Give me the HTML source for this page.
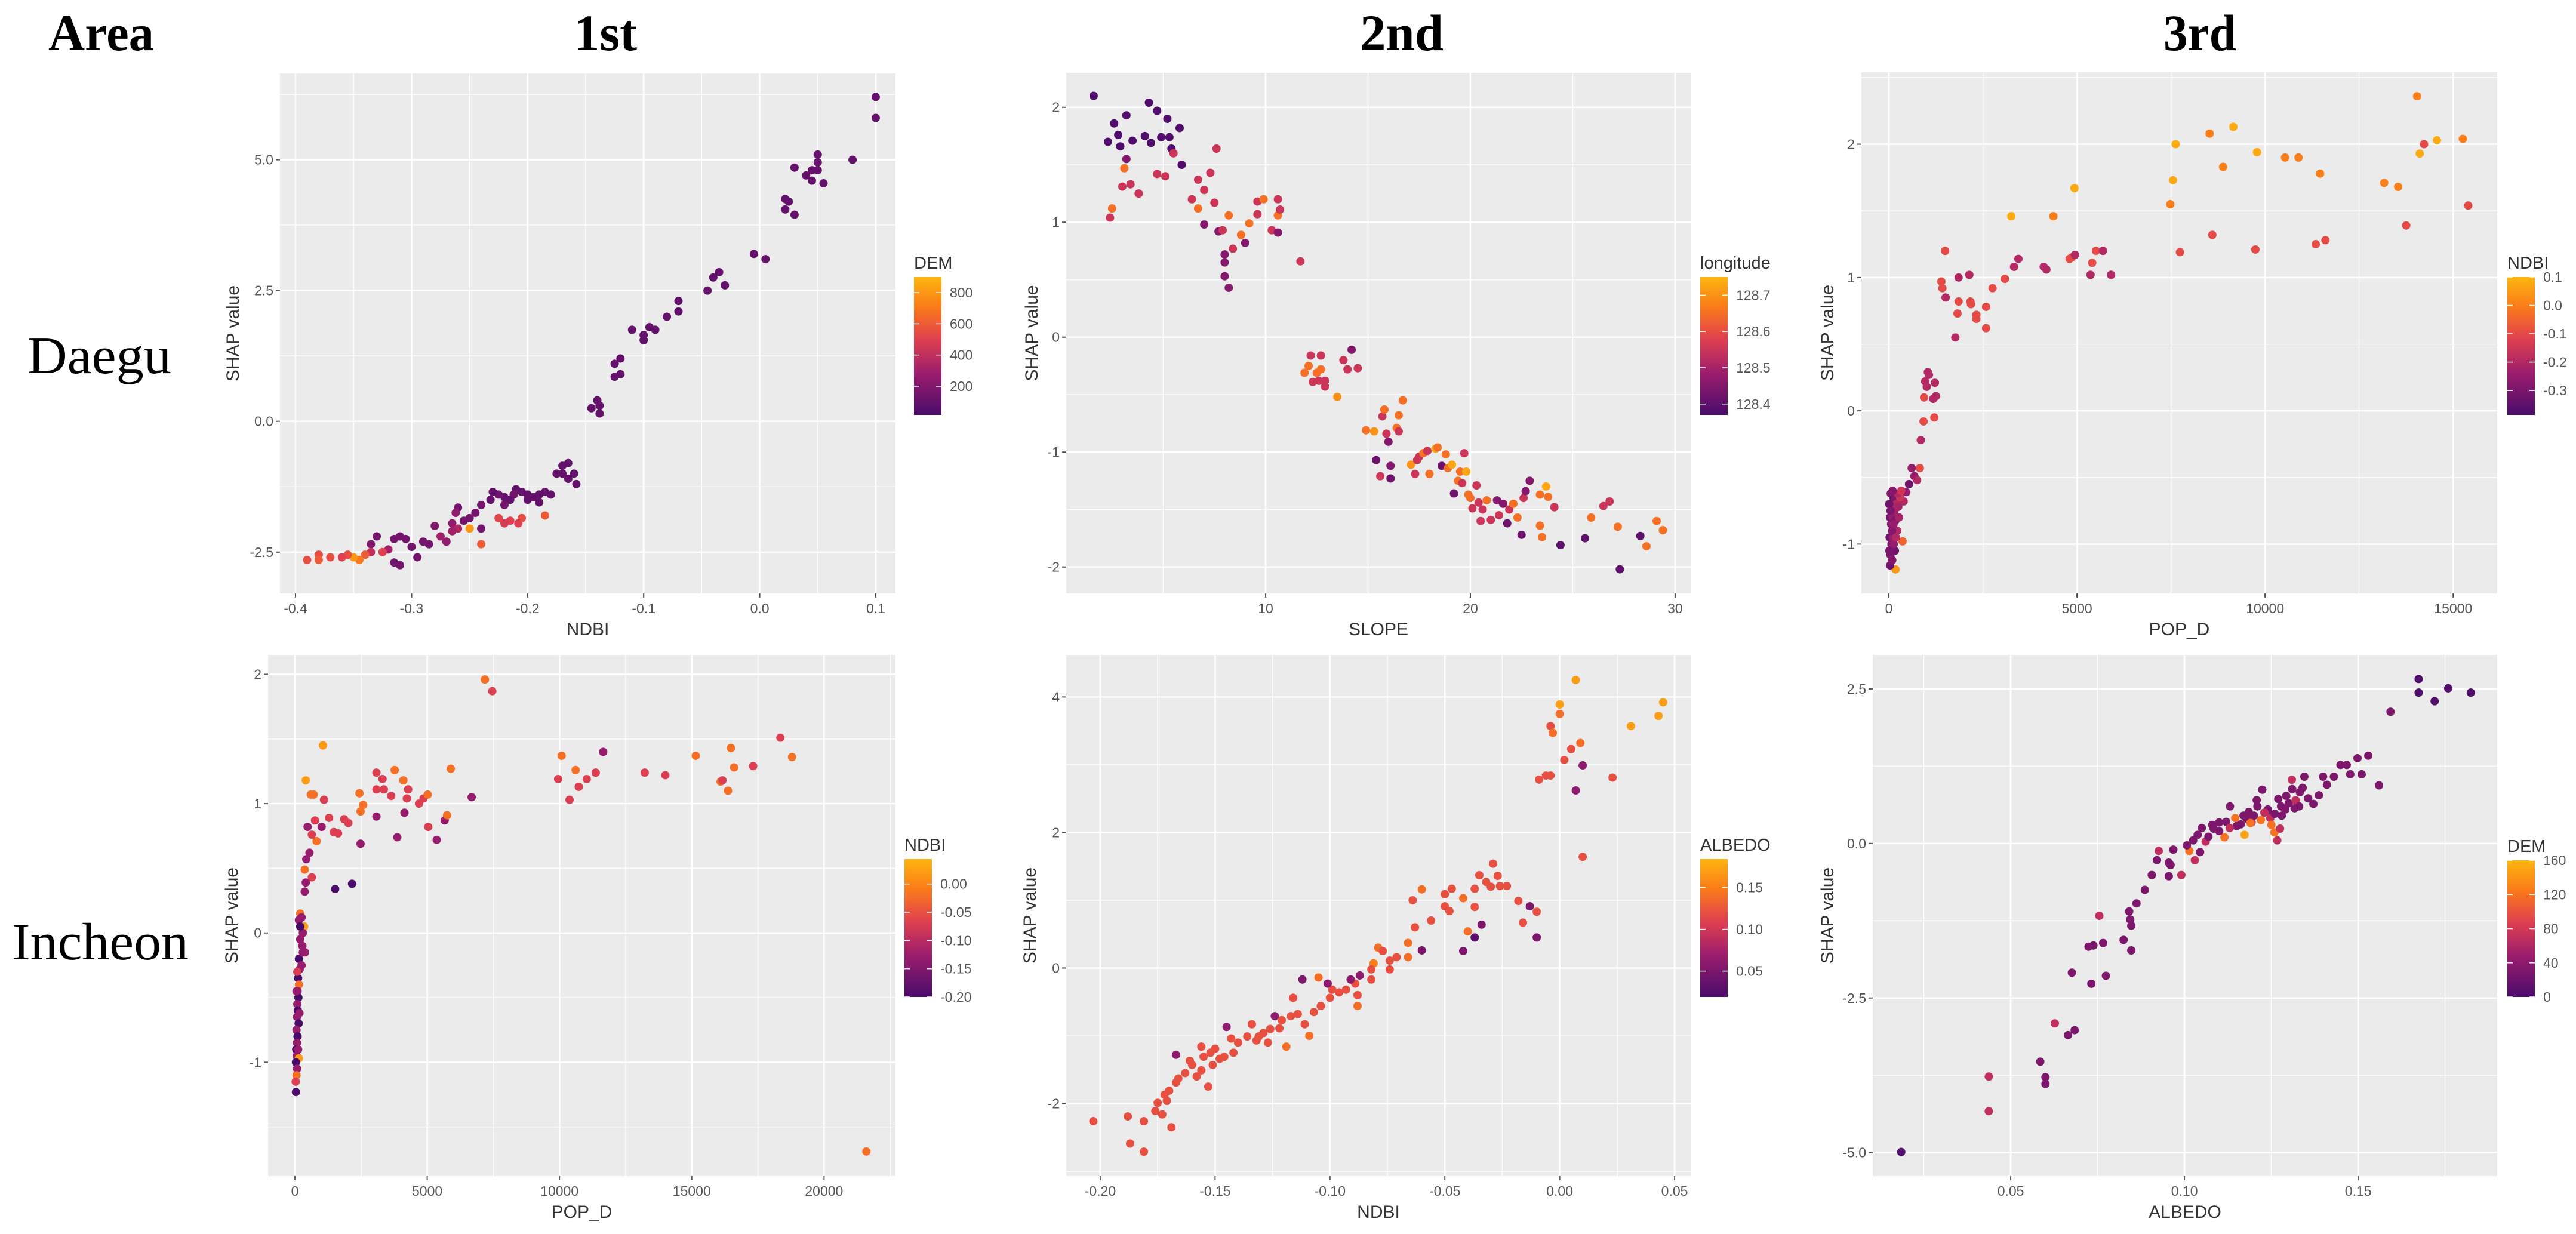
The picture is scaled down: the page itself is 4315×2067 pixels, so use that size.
<!DOCTYPE html>
<html><head><meta charset="utf-8"><style>
html,body{margin:0;padding:0;background:#fff;}
svg{display:block;}
.serif{font-family:"Liberation Serif",serif;fill:#000;}
.ax{font-family:"Liberation Sans",sans-serif;fill:#555;}
</style></head><body>
<svg id="fig" width="4315" height="2067" viewBox="0 0 4315 2067" xmlns="http://www.w3.org/2000/svg">
<defs>
<linearGradient id="cmap" x1="0" y1="1" x2="0" y2="0">
<stop offset="0" stop-color="#4a0c6b"/><stop offset="0.3" stop-color="#9b1d6d"/><stop offset="0.55" stop-color="#e0404f"/><stop offset="0.78" stop-color="#fa7a1a"/><stop offset="1" stop-color="#fdb50f"/>
</linearGradient>
</defs>
<text class="serif" x="81" y="84" font-size="86" font-weight="bold" textLength="177" lengthAdjust="spacingAndGlyphs">Area</text>
<text class="serif" x="1014" y="84" font-size="86" font-weight="bold" text-anchor="middle" textLength="106" lengthAdjust="spacingAndGlyphs">1st</text>
<text class="serif" x="2348" y="84" font-size="86" font-weight="bold" text-anchor="middle" textLength="140" lengthAdjust="spacingAndGlyphs">2nd</text>
<text class="serif" x="3685" y="84" font-size="86" font-weight="bold" text-anchor="middle" textLength="122" lengthAdjust="spacingAndGlyphs">3rd</text>
<text class="serif" x="46" y="625" font-size="88" textLength="241" lengthAdjust="spacingAndGlyphs">Daegu</text>
<text class="serif" x="20" y="1607" font-size="88" textLength="296" lengthAdjust="spacingAndGlyphs">Incheon</text>
</svg>
<script>
// ---- Daegu 1st: NDBI vs SHAP, colour DEM ----
const tlX=[0.1,0.1,0.08,0.05,0.05,0.05,0.045,0.04,0.045,0.055,0.03,0.022,0.025,0.022,0.03,-0.005,0.005,-0.035,-0.04,-0.03,-0.045,-0.07,-0.07,-0.08,-0.09,-0.095,-0.1,-0.1,-0.11,-0.12,-0.125,-0.12,-0.125,-0.14,-0.145,-0.138,-0.138,
-0.165,-0.17,-0.16,-0.165,-0.17,-0.158,-0.175,
-0.18,-0.185,-0.19,-0.195,-0.2,-0.205,-0.21,-0.212,-0.215,-0.22,-0.225,-0.23,-0.232,-0.22,-0.2,-0.19,
-0.185,-0.205,-0.208,-0.215,-0.22,-0.225,-0.24,-0.25,
-0.24,-0.245,-0.24,-0.25,-0.255,-0.26,-0.262,-0.265,-0.26,-0.265,-0.27,-0.275,-0.28,-0.285,
-0.29,-0.295,-0.3,-0.305,-0.31,-0.315,-0.31,-0.315,-0.32,-0.325,-0.33,-0.335,-0.335,-0.34,-0.345,-0.35,-0.355,-0.36,-0.37,-0.38,-0.38,-0.39];
const tlY=[6.2,5.8,5.0,5.1,4.95,4.8,4.8,4.7,4.6,4.55,4.85,4.25,4.2,4.05,3.95,3.2,3.1,2.85,2.75,2.6,2.5,2.3,2.1,2.0,1.75,1.8,1.65,1.55,1.75,1.2,1.1,0.9,0.85,0.4,0.25,0.3,0.15,
-0.8,-0.85,-1.0,-1.1,-1.0,-1.2,-1.0,
-1.4,-1.35,-1.4,-1.45,-1.4,-1.35,-1.3,-1.4,-1.5,-1.45,-1.4,-1.35,-1.5,-1.6,-1.5,-1.55,
-1.8,-1.85,-1.95,-1.9,-1.95,-1.85,-2.35,-2.05,
-2.05,-1.75,-1.6,-1.85,-1.9,-1.65,-1.75,-1.95,-2.05,-2.1,-2.3,-2.2,-2.0,-2.35,
-2.3,-2.6,-2.4,-2.25,-2.2,-2.25,-2.75,-2.7,-2.45,-2.5,-2.2,-2.35,-2.5,-2.55,-2.65,-2.6,-2.55,-2.6,-2.6,-2.55,-2.65,-2.65];
const tlC=[100,100,100,100,100,100,100,100,100,100,100,100,100,100,100,100,100,100,100,100,100,100,100,100,100,100,100,100,100,100,100,100,100,100,100,100,100,
100,100,100,100,100,100,100,
100,100,100,100,100,100,100,150,100,100,150,100,100,150,100,100,
600,550,500,500,480,520,600,800,
150,150,150,150,150,150,250,250,350,300,250,300,200,150,
150,150,150,150,150,150,150,150,300,500,150,200,400,600,700,800,550,500,550,550,600,550];
const tlXTicks=[-0.4,-0.3,-0.2,-0.1,0.0,0.1];
const tlXLabels=["-0.4","-0.3","-0.2","-0.1","0.0","0.1"];
const tlYTicks=[-2.5,0,2.5,5];
const tlYLabels=["-2.5","0.0","2.5","5.0"];
const tlLegTicks=[800,600,400,200];

// ---- Daegu 2nd: SLOPE vs SHAP, colour longitude ----
const tmX=[1.6,2.3,2.6,2.8,2.9,3.2,3.2,3.5,4.1,4.3,4.4,4.7,4.9,5.2,5.3,5.4,5.8,5.9,5.5,2.4,2.5,3.0,3.1,3.4,3.8,4.7,5.1,6.4,6.7,6.7,7.0,7.0,7.3,7.5,7.6,7.7,7.9,8.0,8.0,8.0,8.2,8.2,8.4,8.8,9.0,9.2,9.6,9.6,9.9,10.3,10.6,10.6,10.6,10.7,11.7,
11.9,12.1,12.2,12.3,12.5,12.6,12.7,12.7,12.9,12.9,13.5,13.8,14.0,14.2,14.5,
14.9,15.3,15.4,15.6,15.7,15.8,15.9,16.0,16.1,16.1,16.4,16.5,16.5,16.7,
17.1,17.3,17.4,17.5,17.7,17.9,18.0,18.3,18.4,18.6,18.8,18.9,19.1,19.2,19.4,19.5,19.6,19.7,19.8,19.9,20.0,20.1,20.3,20.4,20.5,20.6,20.8,21.0,21.3,21.4,21.6,21.8,21.9,22.1,22.3,22.5,22.6,22.7,22.9,23.4,23.4,23.5,23.7,23.8,24.1,24.4,25.6,25.9,26.5,26.8,27.2,27.3,28.3,28.6,29.1,29.4];
const tmY=[2.1,1.7,1.86,1.76,1.66,1.93,1.55,1.71,1.75,2.04,1.69,1.97,1.74,1.9,1.74,1.64,1.82,1.5,1.6,1.04,1.12,1.31,1.47,1.33,1.25,1.42,1.4,1.2,1.37,1.12,1.28,0.98,1.43,1.17,1.64,0.92,0.93,0.72,0.65,0.53,1.06,0.43,0.77,0.89,0.82,0.99,1.18,1.07,1.2,0.93,0.91,1.2,1.06,1.11,0.66,
-0.31,-0.25,-0.16,-0.39,-0.31,-0.38,-0.16,-0.28,-0.43,-0.38,-0.52,-0.2,-0.28,-0.11,-0.27,
-0.81,-0.82,-1.07,-1.21,-0.69,-0.63,-0.84,-0.91,-1.12,-1.23,-0.79,-0.68,-0.82,-0.55,
-1.11,-1.19,-1.07,-1.04,-1.01,-0.99,-1.19,-0.97,-0.96,-1.12,-1.02,-1.14,-1.11,-1.36,-1.25,-1.17,-1.27,-1.01,-1.17,-1.37,-1.4,-1.49,-1.29,-1.44,-1.6,-1.5,-1.42,-1.59,-1.42,-1.55,-1.45,-1.62,-1.5,-1.45,-1.57,-1.72,-1.4,-1.34,-1.25,-1.37,-1.64,-1.74,-1.3,-1.39,-1.48,-1.81,-1.75,-1.57,-1.47,-1.43,-1.65,-2.02,-1.73,-1.82,-1.6,-1.68];
const tmC=[128.38,128.38,128.38,128.38,128.38,128.38,128.45,128.38,128.38,128.38,128.38,128.38,128.38,128.38,128.38,128.38,128.38,128.38,128.55,128.55,128.65,128.55,128.65,128.55,128.55,128.55,128.55,128.55,128.55,128.65,128.55,128.45,128.55,128.55,128.55,128.45,128.55,128.45,128.45,128.45,128.65,128.45,128.55,128.65,128.45,128.65,128.55,128.55,128.65,128.55,128.45,128.55,128.65,128.55,128.55,
128.65,128.65,128.55,128.55,128.65,128.55,128.55,128.65,128.55,128.55,128.7,128.55,128.55,128.45,128.55,
128.65,128.7,128.42,128.55,128.55,128.65,128.55,128.45,128.45,128.42,128.65,128.65,128.55,128.65,
128.7,128.55,128.55,128.55,128.65,128.55,128.65,128.73,128.65,128.42,128.65,128.65,128.73,128.42,128.65,128.65,128.55,128.55,128.73,128.65,128.65,128.55,128.55,128.55,128.55,128.55,128.65,128.55,128.45,128.55,128.45,128.42,128.55,128.65,128.65,128.42,128.55,128.45,128.45,128.65,128.65,128.65,128.73,128.65,128.55,128.4,128.4,128.65,128.55,128.55,128.65,128.4,128.4,128.65,128.65,128.65];
const tmXTicks=[10,20,30];
const tmXLabels=["10","20","30"];
const tmYTicks=[-2,-1,0,1,2];
const tmYLabels=["-2","-1","0","1","2"];
const tmLegTicks=[128.7,128.6,128.5,128.4];

// ---- Daegu 3rd: POP_D vs SHAP, colour NDBI ----
const trX=[14040,7624,8526,9156,9786,8884,10531,10889,11462,7552,7481,4932,3256,4373,13166,13538,14111,14225,14569,15257,15400,13752,8598,7738,9743,11347,11605,
1495,1853,2139,1395,1423,1509,1853,2168,2182,1824,2326,2326,2584,2584,2756,3085,3328,3443,4116,4187,4803,4860,4946,5404,5361,5504,5691,5906,1767,
1037,1065,965,1008,1223,1180,1252,936,1209,922,850,822,607,679,536,750,464,393,364,178,34,
50,80,120,150,30,60,100,140,200,250,180,20,70,110,160,40,90,130,220,300,270,10,45,85,125,190,15,230,330,100];
const trY=[2.36,2.0,2.08,2.13,1.94,1.83,1.9,1.9,1.78,1.73,1.55,1.67,1.46,1.46,1.71,1.68,1.93,2.0,2.03,2.04,1.54,1.39,1.32,1.19,1.21,1.25,1.28,
1.2,1.0,1.02,0.97,0.92,0.85,0.82,0.82,0.8,0.73,0.72,0.69,0.78,0.62,0.92,0.99,1.08,1.14,1.08,1.06,1.14,1.15,1.17,1.11,1.02,1.2,1.2,1.02,0.55,
0.29,0.27,0.22,0.18,0.21,0.09,0.11,0.1,-0.05,-0.08,-0.22,-0.43,-0.43,-0.49,-0.55,-0.52,-0.61,-0.68,-0.98,-1.19,-1.16,
-0.62,-0.7,-0.65,-0.75,-0.8,-0.85,-0.8,-0.9,-0.7,-0.72,-0.82,-0.95,-1.0,-0.95,-1.05,-1.08,-1.12,-1.0,-0.9,-0.65,-0.8,-0.7,-0.75,-0.9,-0.85,-0.95,-1.05,-0.62,-0.6,-0.6];
const trC=[0.0,0.08,0.0,0.08,0.08,0.0,0.0,0.0,0.0,0.08,0.0,0.08,0.08,0.0,0.0,0.0,0.08,-0.1,0.08,0.0,-0.1,-0.1,-0.1,-0.1,-0.1,-0.1,-0.1,
-0.1,-0.2,-0.2,-0.1,-0.1,-0.2,-0.1,-0.1,-0.1,-0.1,-0.1,-0.1,-0.1,-0.1,-0.1,-0.1,-0.2,-0.2,-0.2,-0.2,-0.1,-0.1,-0.2,-0.1,-0.2,-0.1,-0.2,-0.2,-0.2,
-0.2,-0.2,-0.2,-0.2,-0.2,-0.2,-0.2,-0.1,-0.1,-0.1,-0.2,-0.1,-0.25,-0.25,-0.32,-0.2,-0.25,-0.2,-0.05,0.05,-0.32,
-0.28,-0.25,-0.3,-0.22,-0.32,-0.28,-0.25,-0.3,-0.2,-0.22,-0.3,-0.32,-0.28,-0.25,-0.32,-0.3,-0.28,-0.25,-0.2,-0.15,-0.22,-0.32,-0.3,-0.28,-0.25,-0.2,-0.3,-0.2,-0.15,-0.28];
const trXTicks=[0,5000,10000,15000];
const trXLabels=["0","5000","10000","15000"];
const trYTicks=[-1,0,1,2];
const trYLabels=["-1","0","1","2"];
const trLegTicks=[0.1,0.0,-0.1,-0.2,-0.3];

// ---- Incheon 1st: POP_D vs SHAP, colour NDBI ----
const blX=[7180,7460,1060,410,600,710,1100,2440,2580,2480,3080,3310,3770,4100,3360,3080,3640,4280,4230,4140,4690,4860,5020,3080,3870,5040,5360,5660,5750,5890,6680,2480,2160,1520,1290,1470,1630,1860,2020,1010,760,820,640,480,550,430,640,370,410,370,
10080,10610,9950,10380,10730,11030,11370,11650,13220,14000,15150,16090,16160,16370,16480,16600,17320,18350,18790,21600,
200,250,150,350,300,200,280,380,150,250,180,120,150,100,130,90,110,80,140,60,100,80,50,120,70,150,40,80,60,30,40,200,300,90,60,170];
const blY=[1.96,1.87,1.45,1.18,1.07,1.07,1.03,1.08,0.99,0.94,1.24,1.19,1.26,1.18,1.11,1.11,1.06,1.11,1.04,0.93,1.0,1.04,1.07,0.9,0.74,0.82,0.72,0.87,0.91,1.27,1.05,0.69,0.38,0.34,0.89,0.78,0.77,0.88,0.85,0.82,0.87,0.71,0.76,0.82,0.62,0.57,0.43,0.49,0.39,0.32,
1.37,1.26,1.19,1.03,1.13,1.19,1.24,1.4,1.24,1.22,1.37,1.17,1.18,1.1,1.43,1.28,1.29,1.51,1.36,-1.69,
0.15,0.12,0.1,0.05,0.0,-0.05,-0.1,-0.15,-0.2,-0.25,-0.28,-0.35,-0.4,-0.45,-0.5,-0.55,-0.6,-0.65,-0.7,-0.75,-0.8,-0.85,-0.9,-0.9,-0.95,-0.97,-1.0,-1.05,-1.1,-1.15,-1.23,0.05,-0.15,-0.3,-0.45,-0.62];
const blC=[-0.02,-0.07,0.02,0.02,-0.02,-0.02,-0.07,-0.02,-0.02,-0.02,-0.07,-0.07,-0.02,-0.02,-0.07,-0.07,-0.07,-0.07,-0.07,-0.13,-0.07,-0.07,-0.02,-0.13,-0.13,-0.07,-0.13,-0.13,-0.02,-0.02,-0.13,-0.13,-0.2,-0.2,-0.07,-0.07,-0.07,-0.07,-0.07,-0.13,-0.07,-0.02,-0.07,-0.13,-0.13,-0.13,-0.07,-0.02,-0.13,-0.13,
-0.02,-0.02,-0.07,-0.07,-0.07,-0.07,-0.07,-0.13,-0.07,-0.07,-0.02,-0.02,-0.07,-0.02,-0.02,-0.02,-0.07,-0.07,-0.02,-0.02,
-0.02,-0.13,-0.13,0.02,-0.13,-0.13,-0.13,-0.13,-0.2,-0.13,-0.13,-0.2,-0.02,-0.13,-0.2,-0.13,-0.2,-0.13,-0.2,-0.13,-0.2,-0.13,-0.2,-0.13,-0.13,0.02,-0.2,-0.13,-0.02,-0.07,-0.2,-0.2,-0.13,-0.07,-0.13,-0.13];
const blXTicks=[0,5000,10000,15000,20000];
const blXLabels=["0","5000","10000","15000","20000"];
const blYTicks=[-1,0,1,2];
const blYLabels=["-1","0","1","2"];
const blLegTicks=[0.0,-0.05,-0.10,-0.15,-0.20];

// ---- Incheon 2nd: NDBI vs SHAP, colour ALBEDO ----
const bmX=[0.007,0.0,0.0,-0.004,-0.003,0.045,0.043,0.031,0.009,0.005,0.002,0.01,-0.004,-0.006,-0.009,0.023,0.007,0.01,
-0.029,-0.027,-0.035,-0.026,-0.03,-0.032,-0.023,-0.037,-0.042,-0.037,-0.047,-0.05,-0.05,-0.048,-0.06,-0.064,-0.056,-0.063,-0.04,-0.034,-0.037,-0.042,-0.06,-0.018,-0.013,-0.01,-0.016,-0.01,
-0.066,-0.066,-0.071,-0.074,-0.079,-0.077,-0.081,-0.082,-0.082,-0.074,-0.087,-0.089,-0.091,-0.093,-0.088,-0.088,-0.096,-0.099,-0.101,-0.1,-0.105,-0.104,-0.107,-0.109,-0.112,-0.111,-0.114,-0.116,-0.117,-0.119,-0.121,-0.124,-0.122,-0.126,-0.129,-0.127,-0.131,-0.134,-0.132,-0.136,-0.14,-0.143,-0.145,-0.142,-0.146,-0.148,-0.15,-0.152,-0.151,-0.155,-0.156,-0.153,-0.156,-0.158,-0.16,-0.161,-0.163,-0.166,-0.167,-0.167,-0.17,-0.172,-0.171,-0.175,-0.176,-0.173,-0.169,-0.181,-0.188,-0.187,-0.181,-0.203];
const bmY=[4.25,3.89,3.75,3.57,3.47,3.92,3.72,3.57,3.32,3.23,3.07,2.99,2.84,2.84,2.78,2.81,2.62,1.64,
1.54,1.36,1.37,1.21,1.2,1.27,1.21,1.17,1.03,0.9,1.17,1.09,0.91,0.84,1.16,1.0,0.7,0.6,0.54,0.64,0.45,0.25,0.26,0.99,0.91,0.83,0.67,0.45,
0.37,0.16,0.16,0.11,0.3,0.25,0.07,-0.02,-0.17,-0.02,-0.11,-0.23,-0.17,-0.32,-0.4,-0.56,-0.36,-0.32,-0.23,-0.44,-0.14,-0.56,-0.65,-1.0,-0.17,-0.83,-0.68,-0.44,-0.71,-1.16,-0.77,-0.71,-0.89,-0.9,-0.96,-1.1,-1.01,-0.83,-1.07,-1.01,-1.1,-1.04,-0.87,-1.25,-1.31,-1.34,-1.19,-1.25,-1.43,-1.31,-1.16,-1.75,-1.51,-1.6,-1.43,-1.37,-1.55,-1.63,-1.69,-1.28,-1.81,-1.87,-1.96,-1.99,-2.11,-2.16,-2.35,-2.26,-2.19,-2.59,-2.71,-2.26];
const bmC=[0.17,0.17,0.14,0.12,0.14,0.17,0.17,0.17,0.14,0.12,0.12,0.06,0.12,0.12,0.12,0.12,0.06,0.12,
0.12,0.12,0.12,0.12,0.12,0.12,0.12,0.12,0.14,0.12,0.12,0.12,0.12,0.12,0.14,0.12,0.12,0.12,0.14,0.05,0.03,0.05,0.05,0.12,0.05,0.12,0.12,0.05,
0.14,0.14,0.12,0.12,0.14,0.12,0.15,0.12,0.12,0.12,0.06,0.12,0.06,0.12,0.12,0.14,0.12,0.12,0.06,0.12,0.14,0.12,0.12,0.14,0.05,0.12,0.12,0.12,0.12,0.14,0.12,0.06,0.12,0.12,0.12,0.12,0.12,0.12,0.12,0.12,0.12,0.12,0.06,0.12,0.12,0.12,0.12,0.12,0.12,0.12,0.12,0.12,0.12,0.12,0.12,0.12,0.12,0.12,0.12,0.06,0.12,0.12,0.12,0.12,0.12,0.12,0.12,0.12,0.12,0.12,0.12,0.12];
const bmXTicks=[-0.2,-0.15,-0.1,-0.05,0.0,0.05];
const bmXLabels=["-0.20","-0.15","-0.10","-0.05","0.00","0.05"];
const bmYTicks=[-2,0,2,4];
const bmYLabels=["-2","0","2","4"];
const bmLegTicks=[0.15,0.10,0.05];

// ---- Incheon 3rd: ALBEDO vs SHAP, colour DEM ----
const brX=[0.0185,0.0437,0.0437,0.0585,0.06,0.06,0.0627,0.0665,0.0684,0.0676,0.0732,0.0774,0.0724,0.0738,0.0766,0.0755,0.0825,0.0847,0.0844,0.0847,0.0841,0.0862,0.0886,0.0906,0.0955,0.0991,0.096,0.0955,0.0921,0.0926,0.0968,0.1014,0.103,0.1007,0.1025,0.1038,0.1045,0.1061,0.1069,0.1084,0.11,0.1115,0.1131,0.1146,0.1162,0.1173,0.1185,0.1193,0.1208,0.1224,0.1239,0.1247,0.1259,0.1267,0.1275,0.1278,0.1293,0.1309,0.1317,0.1332,0.1345,0.1356,0.1371,0.1387,0.1399,0.141,0.143,0.1449,0.1467,0.1477,0.1498,0.151,0.1529,0.156,0.1593,0.1674,0.1674,0.172,0.1759,0.1824,
0.105,0.108,0.112,0.115,0.118,0.12,0.122,0.124,0.126,0.128,0.13,0.132,0.133,0.125,0.119,0.113,0.11,0.121,0.127,0.131,0.134,0.117,0.123,0.129];
const brY=[-4.99,-3.77,-4.33,-3.53,-3.78,-3.89,-2.91,-3.1,-3.02,-2.09,-2.27,-2.14,-1.67,-1.65,-1.61,-1.17,-1.56,-1.73,-1.23,-1.33,-1.1,-0.97,-0.75,-0.51,-0.53,-0.51,-0.35,-0.31,-0.27,-0.12,-0.1,-0.12,-0.27,-0.03,0.05,0.14,-0.14,0.03,0.11,0.24,0.34,0.1,0.6,0.41,0.31,0.14,0.51,0.34,0.7,0.87,0.51,0.41,0.18,0.05,0.24,0.6,0.77,1.03,0.57,0.83,1.08,0.73,0.64,0.78,1.08,0.95,1.08,1.27,1.27,1.12,1.38,1.12,1.42,0.94,2.13,2.66,2.44,2.3,2.51,2.44,
0.25,0.3,0.35,0.28,0.4,0.45,0.38,0.55,0.48,0.45,0.65,0.7,0.6,0.3,0.33,0.25,0.2,0.6,0.72,0.88,0.9,0.45,0.5,0.55];
const brC=[5,70,70,30,30,30,70,30,30,30,30,30,30,30,30,70,30,30,30,30,30,30,30,30,30,70,30,30,30,70,30,120,70,30,30,30,30,70,30,30,30,120,30,120,30,150,30,70,30,30,30,70,120,70,70,30,30,70,30,30,30,30,30,30,30,30,30,30,30,30,30,30,30,30,30,5,5,5,5,5,
30,30,30,30,30,30,120,30,30,30,30,70,30,120,120,70,30,30,30,30,30,30,70,30];
const brXTicks=[0.05,0.10,0.15];
const brXLabels=["0.05","0.10","0.15"];
const brYTicks=[-5,-2.5,0,2.5];
const brYLabels=["-5.0","-2.5","0.0","2.5"];
const brLegTicks=[160,120,80,40,0];

const NS="http://www.w3.org/2000/svg";
const svg=document.getElementById('fig');
const stops=[[0,[74,12,107]],[0.3,[155,29,109]],[0.55,[224,64,79]],[0.78,[250,122,26]],[1,[253,181,15]]];
function cmap(t){t=Math.max(0,Math.min(1,t));for(let i=1;i<stops.length;i++){if(t<=stops[i][0]){const a=stops[i-1],b=stops[i];const f=(t-a[0])/(b[0]-a[0]);const c=a[1].map((v,k)=>Math.round(v+(b[1][k]-v)*f));return 'rgb('+c.join(',')+')';}}return 'rgb(253,181,15)';}
function mk(tag,attrs,parent){const e=document.createElementNS(NS,tag);for(const k in attrs)e.setAttribute(k,attrs[k]);(parent||svg).appendChild(e);return e;}

function panel(p){
  const g=mk('g',{});
  
  
  const sx=v=>p.L+(v-p.x0)/(p.x1-p.x0)*(p.R-p.L);
  const sy=v=>p.B-(v-p.y0)/(p.y1-p.y0)*(p.B-p.T);
  const bg=mk('rect',{x:p.L,y:p.T,width:p.R-p.L,height:p.B-p.T,fill:'#ebebeb'},g);
  
  
  function minors(t,lo,hi){const s=t[1]-t[0];const out=[];for(let v=t[0]-s/2;v<=hi;v+=s){if(v>=lo)out.push(v);}return out;}
  minors(p.xt,p.x0,p.x1).forEach(v=>{mk('line',{x1:sx(v),x2:sx(v),y1:p.T,y2:p.B,stroke:'#fff','stroke-width':1.3},g);});
  minors(p.yt,p.y0,p.y1).forEach(v=>{mk('line',{y1:sy(v),y2:sy(v),x1:p.L,x2:p.R,stroke:'#fff','stroke-width':1.3},g);});
  p.xt.forEach((v,i)=>{
    mk('line',{x1:sx(v),x2:sx(v),y1:p.T,y2:p.B,stroke:'#fff','stroke-width':2.6},g);
    mk('line',{x1:sx(v),x2:sx(v),y1:p.B,y2:p.B+7,stroke:'#555','stroke-width':2},g);
    const t=mk('text',{x:sx(v),y:p.B+33,'font-size':23,'text-anchor':'middle',class:'ax'},g);
    
    
    t.textContent=p.xl[i];
  });
  p.yt.forEach((v,i)=>{
    mk('line',{y1:sy(v),y2:sy(v),x1:p.L,x2:p.R,stroke:'#fff','stroke-width':2.6},g);
    mk('line',{y1:sy(v),y2:sy(v),x1:p.L-7,x2:p.L,stroke:'#555','stroke-width':2},g);
    const t=mk('text',{x:p.L-11,y:sy(v)+8,'font-size':23,'text-anchor':'end',class:'ax'},g);
    
    
    t.textContent=p.yl[i];
  });
  const xt=mk('text',{x:(p.L+p.R)/2,y:p.B+70,'font-size':30,'text-anchor':'middle',class:'ax',style:'fill:#333'},g);
  
  
  xt.textContent=p.xtitle;
  const yc=(p.T+p.B)/2;
  const yt=mk('text',{x:p.yx,y:yc,'font-size':30,'text-anchor':'middle',class:'ax',style:'fill:#333',transform:'rotate(-90 '+p.yx+' '+yc+')'},g);
  
  
  yt.textContent='SHAP value';
  const L=p.leg;
  for(let i=0;i<p.xs.length;i++){
    const c=mk('circle',{cx:sx(p.xs[i]),cy:sy(p.ys[i]),r:7,fill:cmap((p.cs[i]-L.v0)/(L.v1-L.v0))},g);
    
    
  }
  const lt=mk('text',{x:L.x,y:L.t-14,'font-size':29,class:'ax',style:'fill:#333'},g);
  
  
  lt.textContent=L.title;
  const bar=mk('rect',{x:L.x,y:L.t,width:46,height:L.b-L.t,fill:'url(#cmap)'},g);
  
  
  const ly=v=>L.b-(v-L.v0)/(L.v1-L.v0)*(L.b-L.t);
  L.ticks.forEach((v,i)=>{
    mk('line',{x1:L.x,x2:L.x+9,y1:ly(v),y2:ly(v),stroke:'#fff','stroke-width':1.5},g);
    mk('line',{x1:L.x+37,x2:L.x+46,y1:ly(v),y2:ly(v),stroke:'#fff','stroke-width':1.5},g);
    const t=mk('text',{x:L.x+60,y:ly(v)+8,'font-size':23,class:'ax'},g);
    
    
    t.textContent=L.labels[i];
  });
}

panel({name:'daegu-ndbi-panel',L:469,R:1500,T:123,B:994,x0:-0.4134,x1:0.117,y0:-3.29,y1:6.65,xt:tlXTicks,xl:tlXLabels,yt:tlYTicks,yl:tlYLabels,xtitle:'NDBI',yx:400,xs:tlX,ys:tlY,cs:tlC,
 leg:{title:'DEM',x:1531,t:464,b:695,v0:16,v1:900,ticks:tlLegTicks,labels:["800","600","400","200"]}});
panel({name:'daegu-slope-panel',L:1786,R:2832,T:122,B:994,x0:0.26,x1:30.76,y0:-2.23,y1:2.3,xt:tmXTicks,xl:tmXLabels,yt:tmYTicks,yl:tmYLabels,xtitle:'SLOPE',yx:1738,xs:tmX,ys:tmY,cs:tmC,
 leg:{title:'longitude',x:2848,t:464,b:695,v0:128.37,v1:128.75,ticks:tmLegTicks,labels:["128.7","128.6","128.5","128.4"]}});
panel({name:'daegu-popd-panel',L:3118,R:4183,T:121,B:994,x0:-730,x1:16170,y0:-1.37,y1:2.54,xt:trXTicks,xl:trXLabels,yt:trYTicks,yl:trYLabels,xtitle:'POP_D',yx:3071,xs:trX,ys:trY,cs:trC,
 leg:{title:'NDBI',x:4200,t:464,b:695,v0:-0.386,v1:0.1,ticks:trLegTicks,labels:["0.1","0.0","-0.1","-0.2","-0.3"]}});
panel({name:'incheon-popd-panel',L:449,R:1500,T:1097,B:1970,x0:-1016,x1:22700,y0:-1.88,y1:2.15,xt:blXTicks,xl:blXLabels,yt:blYTicks,yl:blYLabels,xtitle:'POP_D',yx:398,xs:blX,ys:blY,cs:blC,
 leg:{title:'NDBI',x:1515,t:1439,b:1670,v0:-0.2,v1:0.044,ticks:blLegTicks,labels:["0.00","-0.05","-0.10","-0.15","-0.20"]}});
panel({name:'incheon-ndbi-panel',L:1786,R:2832,T:1097,B:1970,x0:-0.2148,x1:0.057,y0:-3.07,y1:4.62,xt:bmXTicks,xl:bmXLabels,yt:bmYTicks,yl:bmYLabels,xtitle:'NDBI',yx:1735,xs:bmX,ys:bmY,cs:bmC,
 leg:{title:'ALBEDO',x:2848,t:1439,b:1670,v0:0.019,v1:0.184,ticks:bmLegTicks,labels:["0.15","0.10","0.05"]}});
panel({name:'incheon-albedo-panel',L:3137,R:4183,T:1097,B:1970,x0:0.0103,x1:0.19,y0:-5.38,y1:3.05,xt:brXTicks,xl:brXLabels,yt:brYTicks,yl:brYLabels,xtitle:'ALBEDO',yx:3071,xs:brX,ys:brY,cs:brC,
 leg:{title:'DEM',x:4200,t:1441,b:1670,v0:0,v1:160,ticks:brLegTicks,labels:["160","120","80","40","0"]}});
</script>
</body></html>
